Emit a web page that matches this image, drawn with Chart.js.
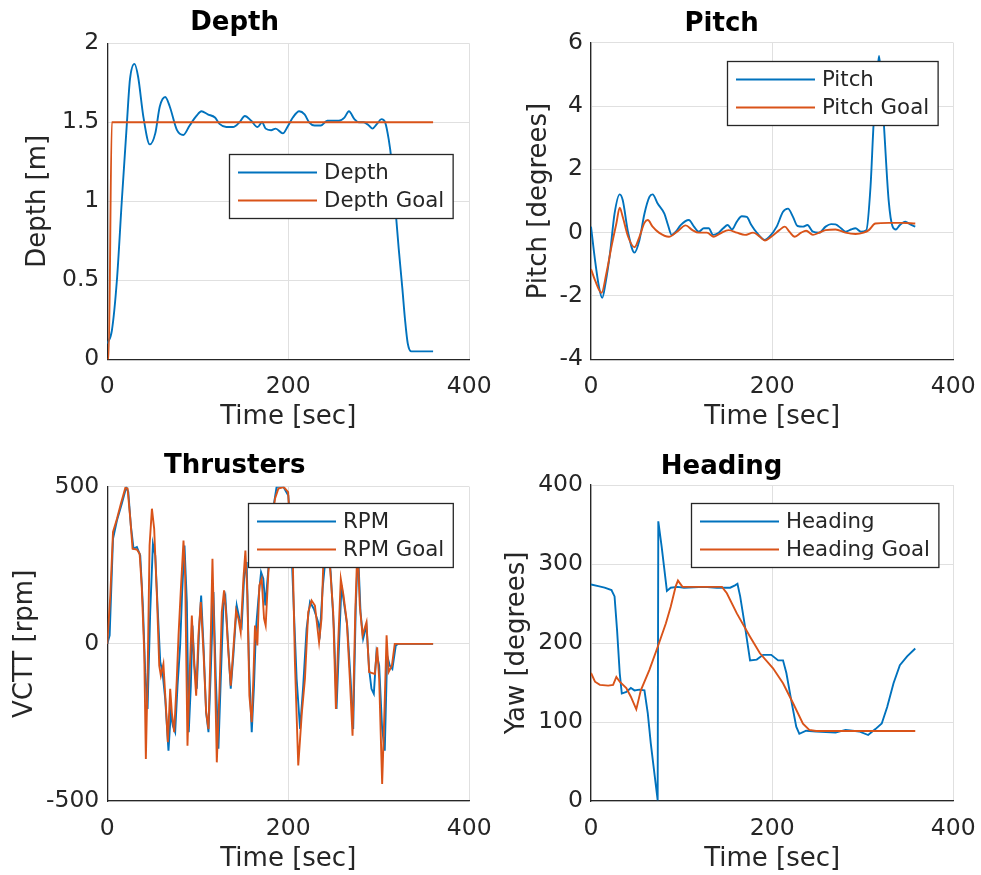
<!DOCTYPE html>
<html><head><meta charset="utf-8">
<script src="https://cdn.jsdelivr.net/npm/chart.js@4/dist/chart.umd.min.js"></script>
<style>
html,body{margin:0;padding:0;background:#fff;overflow:hidden;}
body{width:981px;height:875px;position:relative;}
canvas{position:absolute;}
</style></head><body>
<canvas id="cDepth" width="510" height="432" style="left:0px;top:0px"></canvas>
<canvas id="cPitch" width="505" height="432" style="left:490px;top:0px"></canvas>
<canvas id="cThr" width="510" height="443" style="left:0px;top:432px"></canvas>
<canvas id="cHead" width="505" height="443" style="left:490px;top:432px"></canvas>
<script>
// ---------- DATA ----------
const xTicks = [0, 200, 400];

const depthTime = [0,5,10.6,16,21.6,25,30,34,40,47,53,58,64,69,77,84,91,98.5,104,111,119,124,131.5,139,146,152,159,166,171,175,181,186,194,199,205,212,218,223,229,236,243,249,256,262,267,273,278,283,289,293,298,303,307,311,314,318,322,326,329,332,336,360];
const depthValues = [0.1,0.18,0.5,1.0,1.49,1.77,1.87,1.79,1.53,1.36,1.43,1.60,1.66,1.60,1.45,1.42,1.48,1.54,1.57,1.55,1.53,1.49,1.47,1.47,1.50,1.54,1.51,1.47,1.50,1.46,1.45,1.46,1.43,1.47,1.53,1.57,1.55,1.50,1.48,1.48,1.51,1.51,1.51,1.53,1.57,1.52,1.50,1.50,1.48,1.46,1.49,1.52,1.50,1.39,1.26,0.98,0.7,0.45,0.25,0.1,0.05,0.05];
const depthGoalTime = [0,1.5,5,360];
const depthGoalValues = [0,0,1.5,1.5];

const pitchTime = [0,4.4,8.7,12.4,16,21,26,31.7,35,41,48,53.5,59,64.5,68,73.6,81,85,89,93.6,99,108,113.7,119,124.6,130,134.8,141,146,151,155.6,161,166.5,172,177,183,192,197,205,212,217.5,223,228,234,239,245,252,259,265,270,276,281,287,292,298,304,308.6,312,316,318,320.6,324,328.6,333,336.6,341,347,352,358];
const pitchValues = [0.19,-0.86,-1.7,-2.06,-1.6,-0.65,0.6,1.21,1.03,0.0,-0.63,-0.23,0.6,1.13,1.21,0.92,0.6,0.24,-0.07,0.03,0.24,0.4,0.19,0.03,0.14,0.14,-0.07,0,0.14,0.24,0.1,0.35,0.52,0.5,0.24,0,-0.23,-0.13,0.19,0.66,0.76,0.5,0.21,0.19,0.24,0.03,0,0.19,0.27,0.26,0.14,0.03,0.1,0.14,0.03,0.08,1.45,3.43,5.0,5.58,4.8,3.12,1.03,0.19,0.1,0.24,0.35,0.27,0.19];
const pitchGoalTime = [0,4.4,11.7,17,22.6,28,31.7,35,41,48,53.5,59,62.7,68,75,86,95,104.5,112,119,128,135.6,143,152,161,170,179,186.5,192,199,208,214,219,225,232,237.5,245,252,259,270,281,292,301,306.7,314,328.6,343,358];
const pitchGoalValues = [-1.15,-1.5,-1.9,-1.28,-0.44,0.29,0.79,0.5,-0.13,-0.46,-0.13,0.31,0.4,0.19,0,-0.13,0.03,0.23,0.08,0,0,-0.13,-0.02,0.08,0,-0.07,0,-0.13,-0.25,-0.13,0.08,0.19,0.03,-0.13,0,0.06,-0.07,0,0.08,0.1,0,-0.04,0,0.08,0.29,0.31,0.31,0.29];

const rpmTime = [0,2.6,6.3,10.7,16,21,23.2,26,29,32.7,36.4,39.3,41.9,44.5,47.4,50.4,53,55.5,58.5,61,64,67.6,70.2,72.4,75,77.6,80.5,82.7,85.3,87.9,90,92.3,94.1,96.3,98.9,101.5,103.7,106.3,109.2,111.8,114.3,117.3,119.9,122.8,125.4,128.3,130.5,133.1,136.4,139.3,143,146,148.5,151.1,154,156.6,159.6,162.1,164.3,167,169.9,172.4,174.6,178,182.7,187.1,194.5,200,202.6,205.5,209.2,213,216.5,220.2,224,228.3,233,235,237.9,243,246.8,250.4,253.3,256.3,258.8,261.4,265.1,268.8,271.7,274.6,277,279.8,282.7,286.4,289.3,291.9,294.5,297.4,300.4,303.7,306.6,309.2,312.1,315,318.8,321.3,360];
const rpmValues = [0,27,334,393,446,499,483,377,303,308,281,122,-90,-207,101,318,281,122,-58,-90,-175,-340,-218,-260,-281,-133,-5,165,313,133,-281,-133,58,-69,-143,48,154,-5,-218,-281,-90,165,-111,-334,-111,122,149,16,-143,-37,122,80,58,207,260,-69,-281,-133,48,143,228,207,122,239,419,500,500,472,366,154,-111,-271,-133,48,133,111,69,37,175,330,228,48,-207,16,186,133,58,-111,-271,122,300,101,16,58,-80,-143,-159,-27,-69,-271,-340,-37,-69,-80,-5,0,0];
const rpmGoalTime = [0,3.3,6.3,10.7,15,19.9,22.4,25.4,27.9,32.7,35.7,38,40.8,42.6,44.5,46.7,49.3,51.8,54.8,57.4,59.2,62,64.7,66.9,69.5,71.3,73.9,76.8,78.7,81.3,84.2,86,88.6,90.8,93.4,96,98.2,100.7,103.3,106.3,109.2,111.8,113.6,116.2,118.4,121,123.9,126.5,129,131.2,133.8,136.4,139.3,142.3,144.9,147.4,150.4,152.6,154.8,157,159.6,161.4,163.2,165.8,168,170.6,173.2,175,178,181.6,185.3,189,195,199.8,202,205,207.3,211,215,218.4,222,225.7,229.4,234,236.7,238.6,242.3,246,249.6,252.6,255,258,261,264.7,268,271,274,276.5,279,282,286.4,289.3,295.6,298.2,300.4,303.7,306.2,308.6,310.8,314.5,317.6,360];
const rpmGoalValues = [0,154,356,398,446,496,494,398,303,300,287,186,-27,-366,-111,313,430,366,154,-69,-101,-64,-196,-313,-143,-218,-281,-111,27,175,329,218,-324,-111,90,-69,-165,27,133,-27,-218,-271,-69,271,-5,-377,-154,101,170,101,-27,-133,-16,106,80,37,207,297,154,-165,-249,-111,58,-5,186,207,80,58,228,388,462,494,499,483,366,260,-58,-387,-218,-111,101,138,122,5,80,249,340,249,101,-207,-5,207,154,69,-111,-292,101,320,122,27,69,-90,-96,-11,-111,-446,-218,27,-90,-69,0,0];

const headingTime = [0,8,15,22.6,26,28.8,31.7,34,39,44,48,53.5,59,62.7,66,70,73.6,74.3,78,83.8,88,95.4,102.7,124.6,139,153.7,159,161.7,164.7,170,175.6,183,190,199,206.6,212,215.7,221,226.6,230,237.5,248.5,270,281,296,306,314,321,327,334,341,349,358];
const headingValues = [274,272,270,267,259,216,162,136,138,143,140,141,140,111,73,35,1,354,322,266,270,271,270,271,270,270,273,275,259,221,178,179,185,185,178,178,162,128,94,85,89,88,86.5,90,88,83.5,91,98,119,149,172,183,193];
const headingGoalTime = [0,4.4,9.8,19,24.4,28,31.7,39,44,50,55,64.5,73.6,82.7,88,93.6,96,101,121,144.6,150,161,175.6,186.5,201,212,223,234,241,248.5,358];
const headingGoalValues = [162,151,147,146,147,157,151,143,132,116,140,166,195,225,246,272,279,271,271,271,263,237.5,208,187,168,149,124,98,90,88.6,88.6];

// ---------- STYLE ----------
const FONT = '"DejaVu Sans", "Liberation Sans", sans-serif';
const BLUE = '#0072BD', ORANGE = '#D95319';
const TXT = '#262626', GRID = '#e0e0e0', AXIS = '#262626';
const LW = 1.9;

function zip(t, v) {
  const n = Math.min(t.length, v.length), out = [];
  for (let i = 0; i < n; i++) out.push({x: t[i], y: v[i]});
  return out;
}

const boxLegend = {
  id: 'boxLegend',
  afterDatasetsDraw(chart, args, o) {
    const {ctx, chartArea} = chart;
    const ds = chart.data.datasets;
    ctx.save();
    ctx.font = o.fontSize + 'px ' + FONT;
    const tw = Math.max(...ds.map(d => ctx.measureText(d.label).width));
    const w = o.padLeft + o.lineLen + o.gap + tw + o.padRight;
    const h = o.rowH * ds.length + o.padV * 2;
    const x = Math.round(chartArea.right - o.right - w) + 0.5;
    const y = Math.round(chartArea.top + o.top) + 0.5;
    ctx.fillStyle = '#fff';
    ctx.fillRect(x, y, w, h);
    ctx.strokeStyle = AXIS; ctx.lineWidth = 1.3;
    ctx.strokeRect(x, y, w, h);
    ds.forEach((d, i) => {
      const cy = y + o.padV + o.rowH * (i + 0.5);
      ctx.strokeStyle = d.borderColor; ctx.lineWidth = LW;
      ctx.beginPath(); ctx.moveTo(x + o.padLeft, cy); ctx.lineTo(x + o.padLeft + o.lineLen, cy); ctx.stroke();
      ctx.fillStyle = TXT; ctx.textBaseline = 'middle'; ctx.textAlign = 'left';
      ctx.fillText(d.label, x + o.padLeft + o.lineLen + o.gap, cy + 1);
    });
    ctx.restore();
  }
};

function makeChart(id, c) {
  return new Chart(document.getElementById(id), {
    type: 'line',
    data: { datasets: [
      { label: c.labels[0], data: zip(c.t1, c.v1), borderColor: BLUE, backgroundColor: BLUE, borderWidth: LW,
        pointRadius: 0, order: 1, cubicInterpolationMode: c.smooth ? 'monotone' : 'default', tension: 0 },
      { label: c.labels[1], data: zip(c.t2, c.v2), borderColor: ORANGE, backgroundColor: ORANGE, borderWidth: LW,
        pointRadius: 0, order: 0, cubicInterpolationMode: c.smooth ? 'monotone' : 'default', tension: 0 }
    ]},
    options: {
      responsive: false, animation: false, events: [],
      layout: { padding: { left: 0, top: 0, right: c.padRight, bottom: 0 } },
      plugins: {
        legend: { display: false }, tooltip: { enabled: false },
        title: { display: true, text: c.title, color: '#000',
          font: { family: FONT, size: 26, weight: 'bold', lineHeight: 1.2 },
          padding: { top: c.titleTop + 2.5, bottom: c.titleBottom - 2.5 } },
        boxLegend: { fontSize: 21.3, padLeft: 8.5, lineLen: 79, gap: 7, padRight: 9, rowH: 28, padV: 4,
          right: c.legRight, top: c.legTop }
      },
      scales: {
        x: { type: 'linear', min: xTicks[0], max: xTicks[xTicks.length - 1],
          afterBuildTicks: s => { s.ticks = xTicks.map(v => ({ value: v })); },
          ticks: { color: TXT, font: { family: FONT, size: 23.5 }, padding: 13.5, maxRotation: 0, autoSkip: false,
            callback: v => String(v) },
          grid: { color: GRID, drawTicks: false, lineWidth: 1 },
          border: { display: true, color: AXIS, width: 1.3 },
          title: { display: true, text: 'Time [sec]', color: TXT, font: { family: FONT, size: 26, lineHeight: 1.2 },
            padding: { top: 0, bottom: c.xTitleBottom - 2.5 } },
          afterFit: s => { s.height = c.xH; } },
        y: { type: 'linear', min: c.yTicks[0], max: c.yTicks[c.yTicks.length - 1],
          afterBuildTicks: s => { s.ticks = c.yTicks.map(v => ({ value: v })); },
          ticks: { color: TXT, font: { family: FONT, size: 23.5 }, padding: 8, autoSkip: false,
            callback: v => String(v) },
          grid: { color: GRID, drawTicks: false, lineWidth: 1 },
          border: { display: true, color: AXIS, width: 1.3 },
          title: { display: true, text: c.yTitle, color: TXT, font: { family: FONT, size: 26, lineHeight: 1.2 },
            padding: { top: c.yTitleTop + 1.5, bottom: 0 } },
          afterFit: s => { s.width = c.yW; } }
      }
    },
    plugins: [boxLegend]
  });
}

makeChart('cDepth', {
  title: 'Depth', yTitle: 'Depth [m]', labels: ['Depth', 'Depth Goal'], smooth: true,
  t1: depthTime, v1: depthValues, t2: depthGoalTime, v2: depthGoalValues,
  yTicks: [0, 0.5, 1, 1.5, 2],
  padRight: 40.7, yW: 107.3, xH: 72.7, titleTop: 4.9, titleBottom: 7.2, yTitleTop: 21.4, xTitleBottom: 2.1,
  legRight: 16.3, legTop: 110.7
});
makeChart('cPitch', {
  title: 'Pitch', yTitle: 'Pitch [degrees]', labels: ['Pitch', 'Pitch Goal'], smooth: true,
  t1: pitchTime, v1: pitchValues, t2: pitchGoalTime, v2: pitchGoalValues,
  yTicks: [-4, -2, 0, 2, 4, 6],
  padRight: 41.7, yW: 101, xH: 72.7, titleTop: 5.7, titleBottom: 5.8, yTitleTop: 32.2, xTitleBottom: 2.1,
  legRight: 15.3, legTop: 18.3
});
makeChart('cThr', {
  title: 'Thrusters', yTitle: 'VCTT [rpm]', labels: ['RPM', 'RPM Goal'], smooth: false,
  t1: rpmTime, v1: rpmValues, t2: rpmGoalTime, v2: rpmGoalValues,
  yTicks: [-500, 0, 500],
  padRight: 40.7, yW: 107.3, xH: 74, titleTop: 16.1, titleBottom: 7.4, yTitleTop: 7.7, xTitleBottom: 2.7,
  legRight: 16.3, legTop: 16.3
});
makeChart('cHead', {
  title: 'Heading', yTitle: 'Yaw [degrees]', labels: ['Heading', 'Heading Goal'], smooth: false,
  t1: headingTime, v1: headingValues, t2: headingGoalTime, v2: headingGoalValues,
  yTicks: [0, 100, 200, 300, 400],
  padRight: 41.7, yW: 101, xH: 74, titleTop: 17.4, titleBottom: 4.4, yTitleTop: 9.9, xTitleBottom: 2.7,
  legRight: 15.3, legTop: 18
});
</script>
</body></html>
